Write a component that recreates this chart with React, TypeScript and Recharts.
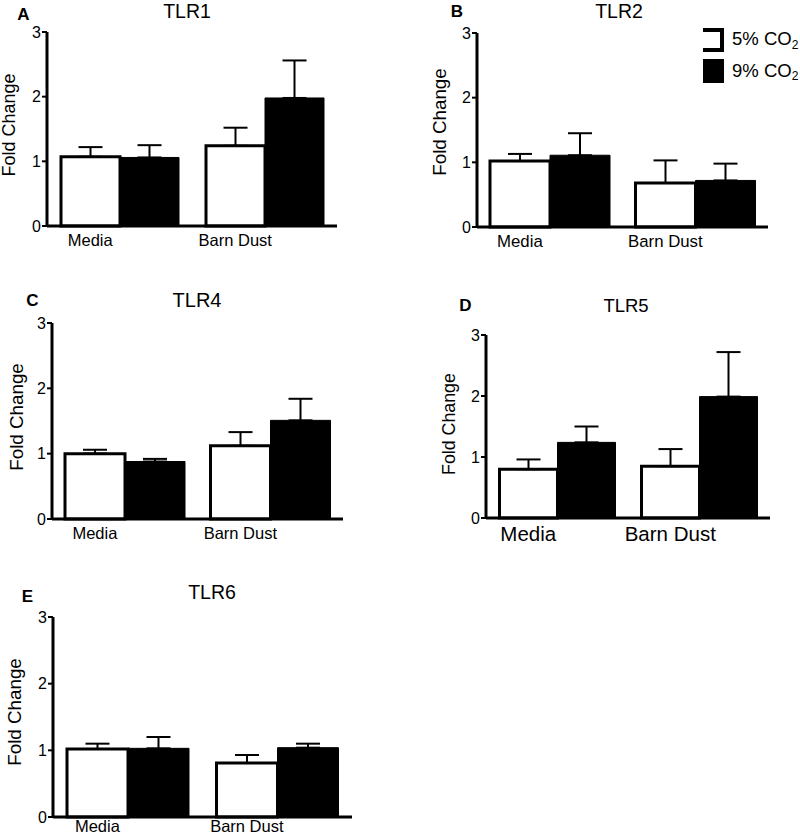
import { Bar, BarChart, ErrorBar, XAxis, YAxis } from "recharts"

const categories = ["Media", "Barn Dust"]
const seriesNames = ["5% CO", "9% CO"]
const yTicks = [0, 1, 2, 3]

// TLR1
const tlr1Co2Low = [1.07, 1.24]
const tlr1Co2LowErr = [0.15, 0.28]
const tlr1Co2High = [1.06, 1.98]
const tlr1Co2HighErr = [0.19, 0.58]
// TLR2
const tlr2Co2Low = [1.02, 0.68]
const tlr2Co2LowErr = [0.11, 0.35]
const tlr2Co2High = [1.11, 0.72]
const tlr2Co2HighErr = [0.34, 0.26]
// TLR4
const tlr4Co2Low = [1.0, 1.12]
const tlr4Co2LowErr = [0.06, 0.21]
const tlr4Co2High = [0.88, 1.51]
const tlr4Co2HighErr = [0.04, 0.33]
// TLR5
const tlr5Co2Low = [0.8, 0.85]
const tlr5Co2LowErr = [0.16, 0.28]
const tlr5Co2High = [1.24, 1.99]
const tlr5Co2HighErr = [0.26, 0.73]
// TLR6
const tlr6Co2Low = [1.02, 0.81]
const tlr6Co2LowErr = [0.08, 0.12]
const tlr6Co2High = [1.03, 1.04]
const tlr6Co2HighErr = [0.17, 0.06]

const FONT = "'Liberation Sans', Arial, Helvetica, sans-serif"
const AXIS_W = 50
const XAXIS_H = 30
const PAD = 10

interface PanelSpec {
  letter: string
  title: string
  low: number[]
  lowErr: number[]
  high: number[]
  highErr: number[]
  x0: number
  x1: number
  yTop: number
  yBot: number
  gap: number
  labelSize: number
  labelShift: number
  titleSize: number
  titleX: number
  titleY: number
  letterX: number
  letterY: number
  yLabelX: number
  yLabelY: number
  yLabelSize: number
}

const panels: PanelSpec[] = [
  {
    letter: "A", title: "TLR1",
    low: tlr1Co2Low, lowErr: tlr1Co2LowErr, high: tlr1Co2High, highErr: tlr1Co2HighErr,
    x0: 47, x1: 337, yTop: 32, yBot: 226, gap: 14, labelSize: 16.5, labelShift: 0,
    titleSize: 19.5, titleX: 187, titleY: 11, letterX: 23.5, letterY: 14,
    yLabelX: 8.5, yLabelY: 125, yLabelSize: 18,
  },
  {
    letter: "B", title: "TLR2",
    low: tlr2Co2Low, lowErr: tlr2Co2LowErr, high: tlr2Co2High, highErr: tlr2Co2HighErr,
    x0: 477, x1: 768, yTop: 33, yBot: 227, gap: 13, labelSize: 16.8, labelShift: 0,
    titleSize: 19.5, titleX: 619, titleY: 11, letterX: 457, letterY: 11,
    yLabelX: 439, yLabelY: 122, yLabelSize: 18.8,
  },
  {
    letter: "C", title: "TLR4",
    low: tlr4Co2Low, lowErr: tlr4Co2LowErr, high: tlr4Co2High, highErr: tlr4Co2HighErr,
    x0: 52, x1: 343, yTop: 323, yBot: 519, gap: 13, labelSize: 16.5, labelShift: 0,
    titleSize: 20, titleX: 197, titleY: 300, letterX: 32.5, letterY: 300,
    yLabelX: 16, yLabelY: 417, yLabelSize: 18.8,
  },
  {
    letter: "D", title: "TLR5",
    low: tlr5Co2Low, lowErr: tlr5Co2LowErr, high: tlr5Co2High, highErr: tlr5Co2HighErr,
    x0: 486, x1: 770, yTop: 335, yBot: 518, gap: 13.5, labelSize: 20.5, labelShift: 0,
    titleSize: 18.5, titleX: 626, titleY: 305, letterX: 465.5, letterY: 305,
    yLabelX: 449, yLabelY: 424, yLabelSize: 17.8,
  },
  {
    letter: "E", title: "TLR6",
    low: tlr6Co2Low, lowErr: tlr6Co2LowErr, high: tlr6Co2High, highErr: tlr6Co2HighErr,
    x0: 53, x1: 352, yTop: 617, yBot: 817, gap: 14, labelSize: 16.5, labelShift: -5,
    titleSize: 19.5, titleX: 212, titleY: 592, letterX: 27.5, letterY: 596,
    yLabelX: 14, yLabelY: 712, yLabelSize: 18.8,
  },
]

function Panel({ p }: { p: PanelSpec }) {
  const data = categories.map((name, i) => ({
    name,
    low: p.low[i],
    lowErr: [0, p.lowErr[i]],
    high: p.high[i],
    highErr: [0, p.highErr[i]],
  }))
  const plotW = p.x1 - p.x0
  const plotH = p.yBot - p.yTop
  const barW = (plotW / categories.length - 2 * p.gap) / 2

  // category labels sit under the first (white) bar of each group
  const renderTick = (props: any) => (
    <text
      x={props.x - barW / 2}
      y={props.y + p.labelShift}
      dy="0.71em"
      textAnchor="middle"
      fontSize={p.labelSize}
      fontFamily={FONT}
      fill="#000"
    >
      {props.payload.value}
    </text>
  )

  return (
    <div style={{ position: "absolute", left: p.x0 - AXIS_W, top: p.yTop - PAD }}>
      <BarChart
        width={plotW + AXIS_W + PAD}
        height={plotH + PAD + XAXIS_H}
        data={data}
        margin={{ top: PAD, right: PAD, left: 0, bottom: 0 }}
        barCategoryGap={p.gap}
        barGap={0}
      >
        <XAxis
          dataKey="name"
          height={XAXIS_H}
          interval={0}
          tickLine={false}
          axisLine={{ stroke: "#000", strokeWidth: 3 }}
          tick={renderTick}
        />
        <YAxis
          domain={[0, 3]}
          ticks={yTicks}
          interval={0}
          width={AXIS_W}
          tickSize={5}
          tickMargin={1}
          axisLine={{ stroke: "#000", strokeWidth: 3 }}
          tickLine={{ stroke: "#000", strokeWidth: 2 }}
          tick={{ fontSize: 16, fill: "#000", fontFamily: FONT }}
        />
        <Bar dataKey="low" fill="#fff" stroke="#000" strokeWidth={3} isAnimationActive={false}>
          <ErrorBar dataKey="lowErr" width={12} stroke="#000" strokeWidth={2} />
        </Bar>
        <Bar dataKey="high" fill="#000" stroke="#000" strokeWidth={1} isAnimationActive={false}>
          <ErrorBar dataKey="highErr" width={12} stroke="#000" strokeWidth={2} />
        </Bar>
      </BarChart>
    </div>
  )
}

function Legend() {
  return (
    <g fontFamily={FONT} fill="#000">
      <path d="M703 30 H722 V50 H703" fill="none" stroke="#000" strokeWidth={4} />
      <text x={732} y={38.5} fontSize={18.5} dominantBaseline="central">
        {seriesNames[0]}
        <tspan fontSize={12} dy={6}>2</tspan>
      </text>
      <rect x={703} y={59} width={21} height={24} fill="#000" />
      <text x={732} y={70} fontSize={18.5} dominantBaseline="central">
        {seriesNames[1]}
        <tspan fontSize={12} dy={6}>2</tspan>
      </text>
    </g>
  )
}

export default function App() {
  return (
    <div
      style={{
        position: "absolute",
        left: 0,
        top: 0,
        width: 800,
        height: 837,
        overflow: "hidden",
        background: "#fff",
        fontFamily: FONT,
      }}
    >
      {panels.map((p) => (
        <Panel key={p.title} p={p} />
      ))}
      <svg
        width={800}
        height={837}
        style={{ position: "absolute", left: 0, top: 0, pointerEvents: "none" }}
      >
        {panels.map((p) => (
          <g key={p.title} fontFamily={FONT} fill="#000">
            <text x={p.letterX} y={p.letterY} fontSize={17} fontWeight="bold" textAnchor="middle" dominantBaseline="central">
              {p.letter}
            </text>
            <text x={p.titleX} y={p.titleY} fontSize={p.titleSize} textAnchor="middle" dominantBaseline="central">
              {p.title}
            </text>
            <text
              x={p.yLabelX}
              y={p.yLabelY}
              fontSize={p.yLabelSize}
              textAnchor="middle"
              dominantBaseline="central"
              transform={`rotate(-90 ${p.yLabelX} ${p.yLabelY})`}
            >
              Fold Change
            </text>
          </g>
        ))}
        <Legend />
      </svg>
    </div>
  )
}
